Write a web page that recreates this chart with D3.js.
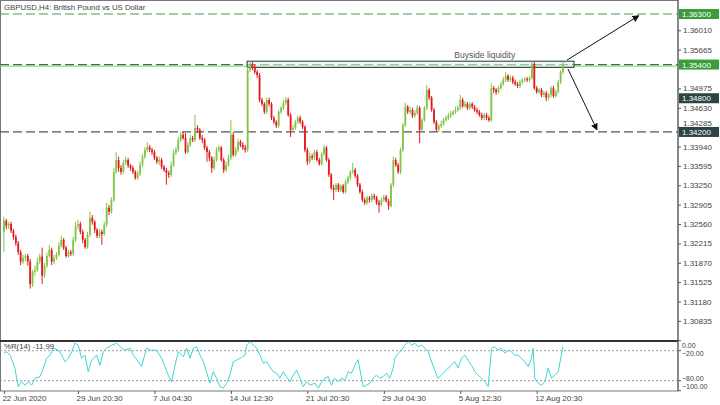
<!DOCTYPE html>
<html>
<head>
<meta charset="utf-8">
<script src="https://cdn.jsdelivr.net/npm/d3@7"></script>
<style>
  body { margin: 0; background: #fff; }
  text { font-family: "Liberation Sans", Arial, sans-serif; }
</style>
</head>
<body>
<div id="chart"></div>
<script>
// GBPUSD H4 candles (open of a bar = close of the bar before)
var title = "GBPUSD,H4: British Pound vs US Dollar";
var firstOpen = 1.3242;
var close = [
  1.3262,1.3253,1.3256,1.3244,1.3233,1.3222,1.3206,1.3189,1.3196,1.3199,
  1.3189,1.3149,1.3171,1.3174,1.3189,1.3198,1.3164,1.3182,1.3199,1.3210,
  1.3189,1.3196,1.3201,1.3217,1.3228,1.3214,1.3199,1.3206,1.3203,1.3228,
  1.3253,1.3256,1.3242,1.3228,1.3215,1.3237,1.3267,1.3260,1.3246,1.3235,
  1.3242,1.3238,1.3255,1.3285,1.3278,1.3299,1.3349,1.3370,1.3356,1.3349,
  1.3365,1.3370,1.3360,1.3356,1.3349,1.3338,1.3345,1.3361,1.3376,1.3388,
  1.3393,1.3388,1.3384,1.3374,1.3367,1.3370,1.3358,1.3352,1.3347,1.3344,
  1.3361,1.3383,1.3388,1.3406,1.3415,1.3409,1.3384,1.3397,1.3409,1.3406,
  1.3427,1.3424,1.3409,1.3406,1.3392,1.3384,1.3374,1.3356,1.3370,1.3388,
  1.3392,1.3370,1.3352,1.3361,1.3374,1.3415,1.3379,1.3388,1.3402,1.3397,
  1.3392,1.3388,1.3530,1.3541,1.3536,1.3527,1.3521,1.3477,1.3470,1.3456,
  1.3477,1.3470,1.3445,1.3438,1.3431,1.3456,1.3463,1.3472,1.3477,1.3450,
  1.3424,1.3427,1.3438,1.3445,1.3438,1.3429,1.3388,1.3367,1.3377,1.3374,
  1.3384,1.3370,1.3363,1.3381,1.3392,1.3370,1.3344,1.3320,1.3317,1.3326,
  1.3317,1.3324,1.3313,1.3331,1.3338,1.3349,1.3352,1.3342,1.3326,1.3313,
  1.3299,1.3294,1.3303,1.3299,1.3306,1.3303,1.3294,1.3290,1.3299,1.3304,
  1.3297,1.3288,1.3326,1.3370,1.3361,1.3349,1.3388,1.3432,1.3465,1.3456,
  1.3459,1.3449,1.3454,1.3463,1.3424,1.3441,1.3463,1.3495,1.3481,1.3459,
  1.3438,1.3424,1.3431,1.3434,1.3441,1.3445,1.3449,1.3452,1.3456,1.3459,
  1.3463,1.3477,1.3466,1.3470,1.3463,1.3470,1.3465,1.3459,1.3456,1.3450,
  1.3445,1.3450,1.3445,1.3441,1.3498,1.3495,1.3491,1.3498,1.3505,1.3513,
  1.3520,1.3513,1.3516,1.3509,1.3505,1.3502,1.3509,1.3513,1.3514,1.3513,
  1.3516,1.3541,1.3498,1.3491,1.3495,1.3486,1.3489,1.3481,1.3486,1.3498,
  1.3484,1.3491,1.3509,1.3527,1.3539
];
var high = [
  1.3269,1.3265,1.3260,1.3260,1.3247,1.3237,1.3226,1.3210,1.3201,1.3203,
  1.3203,1.3194,1.3174,1.3182,1.3196,1.3203,1.3214,1.3187,1.3205,1.3219,
  1.3214,1.3201,1.3206,1.3224,1.3235,1.3231,1.3217,1.3210,1.3210,1.3233,
  1.3260,1.3263,1.3260,1.3246,1.3231,1.3242,1.3278,1.3272,1.3263,1.3249,
  1.3247,1.3246,1.3260,1.3294,1.3290,1.3304,1.3356,1.3384,1.3376,1.3361,
  1.3370,1.3376,1.3374,1.3363,1.3360,1.3352,1.3351,1.3367,1.3381,1.3393,
  1.3402,1.3397,1.3392,1.3388,1.3377,1.3376,1.3374,1.3361,1.3356,1.3351,
  1.3367,1.3388,1.3393,1.3411,1.3420,1.3420,1.3418,1.3402,1.3415,1.3413,
  1.3450,1.3432,1.3427,1.3415,1.3409,1.3395,1.3388,1.3377,1.3376,1.3393,
  1.3397,1.3395,1.3374,1.3367,1.3379,1.3441,1.3420,1.3393,1.3408,1.3406,
  1.3402,1.3397,1.3536,1.3546,1.3545,1.3541,1.3530,1.3525,1.3481,1.3473,
  1.3481,1.3481,1.3473,1.3449,1.3441,1.3459,1.3466,1.3477,1.3482,1.3481,
  1.3454,1.3432,1.3441,1.3449,1.3449,1.3441,1.3432,1.3392,1.3383,1.3381,
  1.3388,1.3388,1.3374,1.3384,1.3397,1.3395,1.3374,1.3347,1.3326,1.3329,
  1.3329,1.3327,1.3327,1.3335,1.3342,1.3352,1.3365,1.3356,1.3345,1.3329,
  1.3317,1.3303,1.3306,1.3306,1.3311,1.3310,1.3306,1.3299,1.3303,1.3308,
  1.3308,1.3301,1.3329,1.3376,1.3374,1.3365,1.3392,1.3436,1.3472,1.3468,
  1.3465,1.3463,1.3459,1.3468,1.3466,1.3445,1.3466,1.3504,1.3498,1.3484,
  1.3463,1.3441,1.3434,1.3440,1.3445,1.3449,1.3454,1.3457,1.3459,1.3465,
  1.3468,1.3486,1.3481,1.3475,1.3473,1.3473,1.3473,1.3468,1.3463,1.3459,
  1.3454,1.3454,1.3454,1.3449,1.3507,1.3502,1.3498,1.3502,1.3509,1.3518,
  1.3527,1.3523,1.3521,1.3520,1.3513,1.3509,1.3513,1.3516,1.3518,1.3518,
  1.3520,1.3545,1.3545,1.3502,1.3498,1.3498,1.3493,1.3493,1.3489,1.3502,
  1.3502,1.3495,1.3513,1.3530,1.3545
];
var low = [
  1.3206,1.3247,1.3247,1.3240,1.3228,1.3217,1.3201,1.3183,1.3185,1.3190,
  1.3182,1.3141,1.3144,1.3164,1.3171,1.3185,1.3149,1.3160,1.3178,1.3196,
  1.3183,1.3185,1.3192,1.3198,1.3214,1.3210,1.3196,1.3196,1.3199,1.3199,
  1.3224,1.3246,1.3238,1.3222,1.3212,1.3212,1.3233,1.3255,1.3240,1.3231,
  1.3231,1.3219,1.3235,1.3251,1.3272,1.3274,1.3295,1.3345,1.3349,1.3344,
  1.3345,1.3361,1.3356,1.3351,1.3345,1.3335,1.3335,1.3342,1.3358,1.3372,
  1.3384,1.3384,1.3379,1.3370,1.3363,1.3361,1.3354,1.3349,1.3326,1.3338,
  1.3340,1.3358,1.3379,1.3384,1.3402,1.3406,1.3381,1.3381,1.3393,1.3402,
  1.3402,1.3418,1.3406,1.3400,1.3388,1.3367,1.3368,1.3347,1.3352,1.3367,
  1.3384,1.3367,1.3347,1.3349,1.3358,1.3370,1.3376,1.3376,1.3384,1.3393,
  1.3388,1.3383,1.3384,1.3527,1.3530,1.3523,1.3516,1.3473,1.3466,1.3452,
  1.3452,1.3466,1.3441,1.3434,1.3427,1.3427,1.3452,1.3459,1.3468,1.3447,
  1.3411,1.3420,1.3424,1.3434,1.3434,1.3425,1.3384,1.3361,1.3363,1.3370,
  1.3370,1.3367,1.3360,1.3360,1.3377,1.3367,1.3340,1.3317,1.3299,1.3313,
  1.3313,1.3313,1.3310,1.3310,1.3327,1.3335,1.3345,1.3338,1.3322,1.3310,
  1.3295,1.3290,1.3290,1.3294,1.3295,1.3299,1.3290,1.3276,1.3287,1.3295,
  1.3294,1.3281,1.3285,1.3322,1.3358,1.3345,1.3345,1.3384,1.3429,1.3452,
  1.3452,1.3445,1.3445,1.3450,1.3400,1.3420,1.3438,1.3459,1.3477,1.3456,
  1.3434,1.3420,1.3420,1.3427,1.3431,1.3438,1.3441,1.3445,1.3449,1.3452,
  1.3456,1.3459,1.3463,1.3463,1.3459,1.3459,1.3461,1.3456,1.3452,1.3447,
  1.3441,1.3441,1.3441,1.3438,1.3438,1.3489,1.3486,1.3488,1.3495,1.3502,
  1.3509,1.3509,1.3509,1.3505,1.3502,1.3498,1.3498,1.3505,1.3509,1.3509,
  1.3509,1.3513,1.3495,1.3488,1.3488,1.3482,1.3482,1.3475,1.3477,1.3482,
  1.3481,1.3481,1.3488,1.3505,1.3523
];

// Williams %R(14) line, [bar, value] pairs
var wpr = [
  [0,-25],[1.2,-22],[2.6,-29],[4.6,-55],[6,-92],[7.4,-82],[8.8,-89],[10.2,-82],[11.6,-89],[13,-75],
  [15.1,-72],[16.5,-55],[17.9,-35],[19.3,-29],[20.7,-15],[22.8,-19],[24.2,-29],[25.6,-42],[27,-35],[28.4,-22],
  [29.7,-5],[31.1,-9],[32.5,-35],[33.9,-29],[35.3,-62],[36.7,-39],[38.8,-29],[40.2,-49],[41.6,-22],[43,-15],
  [45.1,-9],[47.2,-5],[49.3,-15],[50.7,-19],[52.8,-15],[54.2,-29],[56.2,-42],[57.6,-52],[59.7,-15],[61.8,-19],
  [63.9,-19],[66,-35],[67.4,-52],[68.8,-69],[70.2,-82],[71.6,-49],[73,-22],[75.1,-32],[76.5,-15],[77.9,-35],
  [79.3,-15],[80.7,-12],[82.1,-29],[83.5,-42],[84.8,-62],[86.2,-85],[87.6,-62],[89,-75],[90.4,-92],[91.8,-95],
  [93.2,-85],[94.6,-69],[96,-42],[97.4,-39],[98.8,-35],[100.9,-29],[101.6,-9],[103,-2],[104.4,-9],[105.8,-15],
  [107.2,-29],[108.6,-45],[110,-42],[111.3,-52],[112.7,-62],[114.1,-65],[115.5,-75],[116.9,-62],[118.3,-72],[119.7,-82],
  [121.1,-69],[122.5,-59],[123.9,-75],[125.3,-92],[126.7,-82],[128.1,-89],[130.2,-85],[131.6,-95],[133,-82],[134.3,-75],
  [135.7,-72],[137.1,-89],[138.5,-75],[139.9,-82],[141.3,-75],[142.7,-79],[144.1,-62],[145.5,-65],[146.9,-49],[148.2,-38],
  [150.4,-92],[151.8,-89],[153.2,-85],[154.5,-75],[155.9,-69],[157.3,-75],[158.7,-72],[160.1,-65],[161.5,-75],[162.9,-55],
  [163.6,-35],[165,-25],[166.4,-19],[167.8,-9],[169.2,-2],[170.6,-9],[172,-5],[173.4,-12],[174.8,-9],[176.2,-15],
  [177.6,-22],[179,-42],[180.3,-59],[181.7,-75],[183.1,-69],[184.5,-62],[185.9,-55],[187.3,-49],[188.7,-42],[190.1,-55],
  [191.5,-35],[192.9,-29],[194.3,-39],[195.7,-49],[197.1,-62],[198.5,-69],[199.9,-75],[201.3,-82],[202.7,-92],[204.1,-15],
  [205.5,-12],[206.8,-19],[208.2,-15],[209.6,-25],[211,-19],[212.4,-22],[213.8,-29],[215.2,-29],[216.6,-35],[218,-42],
  [219.4,-52],[220.8,-35],[221.5,-15],[222.2,-75],[223.6,-85],[225,-89],[226.4,-82],[227.8,-55],[229.2,-75],[230.6,-69],
  [232,-62],[233.3,-29],[234,-11.99]
];
var wprLabel = "%R(14) -11.99";
var wprLevels = [-20, -80];
var wprTicks = [0, -20, -80, -100];

// axis ticks (the ones hidden behind level boxes are left out)
var priceTicks = [1.30835,1.31180,1.31525,1.31870,1.32215,1.32560,1.32905,1.33250,1.33595,
                  1.33940,1.34285,1.34630,1.34975,1.35665,1.36010];
var timeTickBars = [0, 31, 63, 95, 127, 159, 191, 223];
var timeTickLabels = ["22 Jun 2020","29 Jun 20:30","7 Jul 04:30","14 Jul 12:30",
                      "21 Jul 20:30","29 Jul 04:30","5 Aug 12:30","12 Aug 20:30"];

// drawn objects: levels, liquidity zone, arrows
var levelPrices = [1.36300, 1.35400, 1.34800, 1.34200];
var zoneBars = [101.8, 238.6];
var zonePrices = [1.3546, 1.3535];
var zoneText = "Buyside liquidity";
var zoneTextAt = [188.5, 1.3552];
var arrowFrom = [[235.7, 1.3548], [236.1, 1.3532]];
var arrowTo = [[265.7, 1.3627], [248.2, 1.3424]];

// ---- layout ----
var W = 720, H = 405;
var axisX = 678, mainBottom = 341, indTop = 341, indBottom = 391;
var bull = "#80c545", bear = "#e3191c";

var svg = d3.select("#chart").append("svg")
    .attr("width", W).attr("height", H);

var x = d3.scaleLinear().domain([0, 234]).range([3.9, 563]);
var y = d3.scaleLinear().domain([1.30835, 1.36010]).range([320.9, 30.3]);
var yR = d3.scaleLinear().domain([-100, 0]).range([390.7, 340.7]);

var defs = svg.append("defs");
defs.append("clipPath").attr("id", "clipMain")
  .append("rect").attr("x", 0).attr("y", 0).attr("width", axisX).attr("height", mainBottom);
defs.append("clipPath").attr("id", "clipInd")
  .append("rect").attr("x", 0).attr("y", indTop).attr("width", axisX).attr("height", indBottom - indTop);
defs.append("marker").attr("id", "arrow")
    .attr("viewBox", "0 0 8 8").attr("refX", 7).attr("refY", 4)
    .attr("markerWidth", 7).attr("markerHeight", 7).attr("orient", "auto")
  .append("path").attr("d", "M0,0 L8,4 L0,8 Z").attr("fill", "#111");

// frame
svg.append("rect").attr("x", 0.5).attr("y", 0.5).attr("width", axisX - 0.5).attr("height", indBottom - 0.5)
  .attr("fill", "none").attr("stroke", "#777").attr("stroke-width", 1);
svg.append("line").attr("x1", 0).attr("x2", axisX).attr("y1", mainBottom).attr("y2", mainBottom)
  .attr("stroke", "#333").attr("stroke-width", 2);

var main = svg.append("g").attr("clip-path", "url(#clipMain)");

// horizontal levels
main.append("line").attr("x1", 0).attr("x2", axisX)
  .attr("y1", y(levelPrices[0])).attr("y2", y(levelPrices[0]))
  .attr("stroke", "#4f9a4f").attr("stroke-width", 1.2).attr("stroke-dasharray", "9,4");
main.append("line").attr("x1", 0).attr("x2", axisX)
  .attr("y1", y(levelPrices[1]) + 1.5).attr("y2", y(levelPrices[1]) + 1.5)
  .attr("stroke", "#8fd68f").attr("stroke-width", 1.2);
main.append("line").attr("x1", 0).attr("x2", axisX)
  .attr("y1", y(levelPrices[1])).attr("y2", y(levelPrices[1]))
  .attr("stroke", "#2f7d32").attr("stroke-width", 1.2).attr("stroke-dasharray", "9,4");
main.append("line").attr("x1", 0).attr("x2", axisX)
  .attr("y1", y(levelPrices[3])).attr("y2", y(levelPrices[3]))
  .attr("stroke", "#555").attr("stroke-width", 1.2).attr("stroke-dasharray", "9,4");

// liquidity zone
main.append("rect")
  .attr("x", x(zoneBars[0])).attr("width", x(zoneBars[1]) - x(zoneBars[0]))
  .attr("y", y(zonePrices[0])).attr("height", y(zonePrices[1]) - y(zonePrices[0]))
  .attr("fill", "#e6f3ef").attr("fill-opacity", 0.6)
  .attr("stroke", "#243434").attr("stroke-width", 1);
main.append("text").attr("x", x(zoneTextAt[0])).attr("y", y(zoneTextAt[1]))
  .attr("font-size", 8.5).attr("fill", "#555").text(zoneText);

// candles
var bars = close.map(function(c, i) {
  return {i: i, o: i ? close[i - 1] : firstOpen, h: high[i], l: low[i], c: c};
});
function colour(d) { return d.c >= d.o ? bull : bear; }

main.selectAll(".wick").data(bars).enter().append("line")
    .attr("class", "wick")
    .attr("x1", function(d) { return x(d.i); })
    .attr("x2", function(d) { return x(d.i); })
    .attr("y1", function(d) { return y(d.h); })
    .attr("y2", function(d) { return y(d.l); })
    .attr("stroke", colour).attr("stroke-width", 1);
main.selectAll(".body").data(bars).enter().append("rect")
    .attr("class", "body")
    .attr("x", function(d) { return x(d.i) - 0.9; })
    .attr("width", 1.8)
    .attr("y", function(d) { return y(Math.max(d.o, d.c)); })
    .attr("height", function(d) { return Math.max(1, Math.abs(y(d.o) - y(d.c))); })
    .attr("fill", colour);

// arrows
arrowFrom.forEach(function(p, k) {
  main.append("line")
    .attr("x1", x(p[0])).attr("y1", y(p[1]))
    .attr("x2", x(arrowTo[k][0])).attr("y2", y(arrowTo[k][1]))
    .attr("stroke", "#111").attr("stroke-width", 1)
    .attr("marker-end", "url(#arrow)");
});

// title
svg.append("text").attr("x", 4).attr("y", 10).attr("font-size", 7.8)
  .attr("fill", "#444").text(title);

// price axis
svg.append("line").attr("x1", axisX).attr("x2", axisX).attr("y1", 0).attr("y2", indBottom)
  .attr("stroke", "#555").attr("stroke-width", 1);
var yAxis = d3.axisRight(y).tickValues(priceTicks)
  .tickFormat(d3.format(".5f")).tickSize(3).tickPadding(2);
svg.append("g").attr("transform", "translate(" + axisX + ",0)").call(yAxis)
  .call(function(g) {
    g.select(".domain").remove();
    g.selectAll("line").attr("stroke", "#555");
    g.selectAll("text").attr("font-size", 8).attr("fill", "#444")
      .attr("font-family", "'Liberation Sans', Arial, sans-serif")
      // the label just above the 1.34200 box sits a little higher, as in the terminal
      .attr("y", function(d) { return Math.abs(d - 1.34285) < 1e-7 ? -4 : 0; });
  });

// level labels on the axis
var labelFill = ["#3a9d3a", "#3a9d3a", "#2d4444", "#2d4444"];
var labels = svg.append("g").selectAll("g").data(levelPrices).enter().append("g")
  .attr("transform", function(d) { return "translate(" + (axisX + 1) + "," + y(d) + ")"; });
labels.append("rect").attr("x", 0).attr("y", -5).attr("width", 40).attr("height", 10)
  .attr("fill", function(d, k) { return labelFill[k]; });
labels.append("text").attr("x", 3).attr("y", 3).attr("font-size", 8).attr("fill", "#fff")
  .text(function(d) { return d3.format(".5f")(d); });

// indicator panel
var ind = svg.append("g").attr("clip-path", "url(#clipInd)");
ind.selectAll(".lvl").data(wprLevels).enter().append("line")
  .attr("x1", 0).attr("x2", axisX)
  .attr("y1", function(d) { return yR(d); }).attr("y2", function(d) { return yR(d); })
  .attr("stroke", "#9a9a9a").attr("stroke-width", 1).attr("stroke-dasharray", "2,2");
ind.append("path").datum(wpr)
  .attr("d", d3.line().x(function(d) { return x(d[0]); }).y(function(d) { return yR(d[1]); }))
  .attr("fill", "none").attr("stroke", "#3fd5d5").attr("stroke-width", 1);
svg.append("text").attr("x", 4).attr("y", 349).attr("font-size", 7.8)
  .attr("fill", "#444").text(wprLabel);

// indicator scale labels, kept inside the panel the way the terminal does
var wprLabelY = [347.5, 356, 381, 389];
svg.append("g").selectAll("text").data(wprTicks).enter().append("text")
  .attr("x", axisX + 4)
  .attr("y", function(d, k) { return wprLabelY[k]; })
  .attr("font-size", 7).attr("fill", "#444")
  .text(function(d) { return d3.format(".2f")(d); });
svg.append("g").selectAll("line").data(wprTicks).enter().append("line")
  .attr("x1", axisX).attr("x2", axisX + 3)
  .attr("y1", function(d) { return yR(d); }).attr("y2", function(d) { return yR(d); })
  .attr("stroke", "#555");

// time axis
var xAxis = d3.axisBottom(x).tickValues(timeTickBars)
  .tickFormat(function(d, k) { return timeTickLabels[k]; }).tickSize(3).tickPadding(1);
svg.append("g").attr("transform", "translate(0," + indBottom + ")").call(xAxis)
  .call(function(g) {
    g.select(".domain").remove();
    g.selectAll("line").attr("stroke", "#555");
    g.selectAll("text").attr("font-size", 8).attr("fill", "#444")
      .attr("text-anchor", "start").attr("dx", "-2")
      .attr("font-family", "'Liberation Sans', Arial, sans-serif");
  });
</script>
</body>
</html>
